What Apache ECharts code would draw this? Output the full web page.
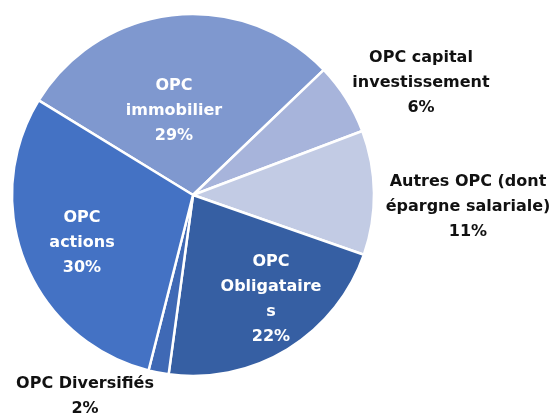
<!DOCTYPE html>
<html>
<head>
<meta charset="utf-8">
<script src="https://cdn.jsdelivr.net/npm/echarts@6/dist/echarts.min.js"></script>
<style>
  html, body { margin: 0; padding: 0; background: #fff; }
  #chart { width: 558px; height: 414px; }
</style>
</head>
<body>
<div id="chart"></div>
<script>
// catégories et parts (en %)
var categories = ['OPC\nimmobilier', 'OPC capital\ninvestissement', 'Autres OPC (dont\népargne salariale)',
    'OPC\nObligataire\ns', 'OPC Diversifiés', 'OPC\nactions'];
var values = [29.1, 6.4, 11.1, 21.8, 1.8, 29.8];
var colors = ['#7F98CF', '#A7B4DB', '#C2CBE4', '#365FA3', '#3F69B5', '#4472C4'];
var outside = [false, true, true, false, true, false];

// position des étiquettes (centre du bloc de texte)
var labelPos = [[174, 111], [421, 83], [468, 207], [271, 299], [85, 396], [82, 243]];

var chart = echarts.init(document.getElementById('chart'));

var data = categories.map(function (name, i) {
    return {
        name: name,
        value: values[i],
        itemStyle: { color: colors[i] },
        label: { color: outside[i] ? '#111111' : '#ffffff' }
    };
});

chart.setOption({
    animation: false,
    series: [{
        type: 'pie',
        center: [193, 195],
        radius: 181,
        startAngle: 148.5,
        clockwise: true,
        data: data,
        itemStyle: { borderColor: '#ffffff', borderWidth: 2.5 },
        label: {
            show: true,
            position: 'inside',
            fontFamily: 'DejaVu Sans',
            fontWeight: 'bold',
            fontSize: 16,
            lineHeight: 25,
            align: 'center',
            formatter: function (p) {
                return p.name + '\n' + Math.round(p.value) + '%';
            }
        },
        labelLine: { show: false },
        labelLayout: function (p) {
            var pos = labelPos[p.dataIndex];
            return { x: pos[0], y: pos[1], align: 'center', verticalAlign: 'middle' };
        }
    }]
});
</script>
</body>
</html>
